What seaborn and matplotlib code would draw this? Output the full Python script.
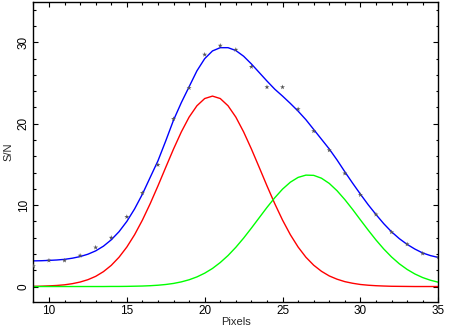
import numpy as np
import pandas as pd
import seaborn as sns
import matplotlib.pyplot as plt
from matplotlib.ticker import MultipleLocator

# measured S/N per pixel
pix = list(range(9, 36))
sn = [2.5, 3.2, 3.2, 3.8, 4.8, 6.0, 8.56, 11.5, 14.95, 20.6, 24.4, 28.5, 29.6, 29.1,
      27.0, 24.5, 24.5, 21.8, 19.1, 16.75, 13.9, 11.26, 8.85, 6.68, 5.2, 4.06, 3.6]

# fitted curves every half pixel (9 .. 35)
x_fit = np.arange(9, 35.5, 0.5)
total = [3.15, 3.17, 3.21, 3.26, 3.34, 3.48, 3.68, 3.97, 4.38, 4.96, 5.74, 6.74,
         8.00, 9.54, 11.35, 13.41, 15.45, 17.9, 20.45, 22.6, 24.55, 26.5, 28.0,
         28.95, 29.35, 29.35, 29.0, 28.3, 27.35, 26.3, 25.25, 24.25, 23.4, 22.5,
         21.55, 20.5, 19.3, 18.1, 16.9, 15.55, 14.1, 12.7, 11.35, 10.05, 8.85,
         7.72, 6.72, 5.88, 5.18, 4.6, 4.12, 3.8, 3.57]
comp1 = [0.02, 0.04, 0.08, 0.13, 0.21, 0.35, 0.55, 0.84, 1.25, 1.83, 2.60, 3.60,
         4.85, 6.37, 8.16, 10.18, 12.37, 14.65, 16.90, 19.00, 20.82, 22.21, 23.10,
         23.40, 23.10, 22.21, 20.82, 19.00, 16.90, 14.65, 12.37, 10.18, 8.16, 6.37,
         4.85, 3.60, 2.62, 1.87, 1.30, 0.90, 0.60, 0.40, 0.25, 0.16, 0.10,
         0.06, 0.03, 0.02, 0.01, 0.0, 0.0, 0.0, 0.0]
comp2 = [0.0, 0.0, 0.0, 0.0, 0.0, 0.0, 0.0, 0.0, 0.0, 0.0, 0.01, 0.01,
         0.02, 0.04, 0.06, 0.10, 0.16, 0.25, 0.38, 0.57, 0.83, 1.18, 1.64,
         2.22, 2.95, 3.81, 4.82, 5.95, 7.18, 8.45, 9.72, 10.91, 11.97, 12.82,
         13.41, 13.69, 13.66, 13.31, 12.67, 11.77, 10.68, 9.47, 8.19, 6.93, 5.72,
         4.61, 3.63, 2.79, 2.10, 1.54, 1.10, 0.77, 0.53]

fits = pd.DataFrame({"x": x_fit, "total": total, "c1": comp1, "c2": comp2})
obs = pd.DataFrame({"x": pix, "sn": sn})

sns.set_style("ticks")
plt.rcParams["font.family"] = ["Liberation Sans", "DejaVu Sans"]
plt.rcParams["font.size"] = 8

fig = plt.figure(figsize=(4.53, 3.27), dpi=100)
ax = fig.add_axes([0.0737, 0.0765, 0.8938, 0.9183])

sns.lineplot(data=fits, x="x", y="total", color="#0000ff", lw=1.0, ax=ax)
sns.lineplot(data=fits, x="x", y="c1", color="#ff0000", lw=1.0, ax=ax)
sns.lineplot(data=fits, x="x", y="c2", color="#00ff00", lw=1.0, ax=ax)
sns.scatterplot(data=obs, x="x", y="sn", marker="*", s=14, color="#555555",
                edgecolor="none", ax=ax, zorder=3, clip_on=True)

ax.set_xlim(9, 35)
ax.set_ylim(-1.9, 35)
ax.xaxis.set_major_locator(MultipleLocator(5))
ax.xaxis.set_minor_locator(MultipleLocator(1))
ax.yaxis.set_major_locator(MultipleLocator(10))
ax.yaxis.set_minor_locator(MultipleLocator(2))
ax.tick_params(which="both", direction="in", top=True, right=True, width=0.8,
               colors="black", labelsize=8.5)
ax.tick_params(which="major", length=3.3, pad=2.5)
ax.tick_params(which="minor", length=1.8)
for lab in ax.get_yticklabels():
    lab.set_rotation(90)
    lab.set_verticalalignment("center")
for sp in ax.spines.values():
    sp.set_linewidth(1.0)
    sp.set_color("black")

ax.set_xlabel("Pixels", labelpad=0)
ax.set_ylabel("S/N", labelpad=3)

fig.savefig("out.png", dpi=100)
